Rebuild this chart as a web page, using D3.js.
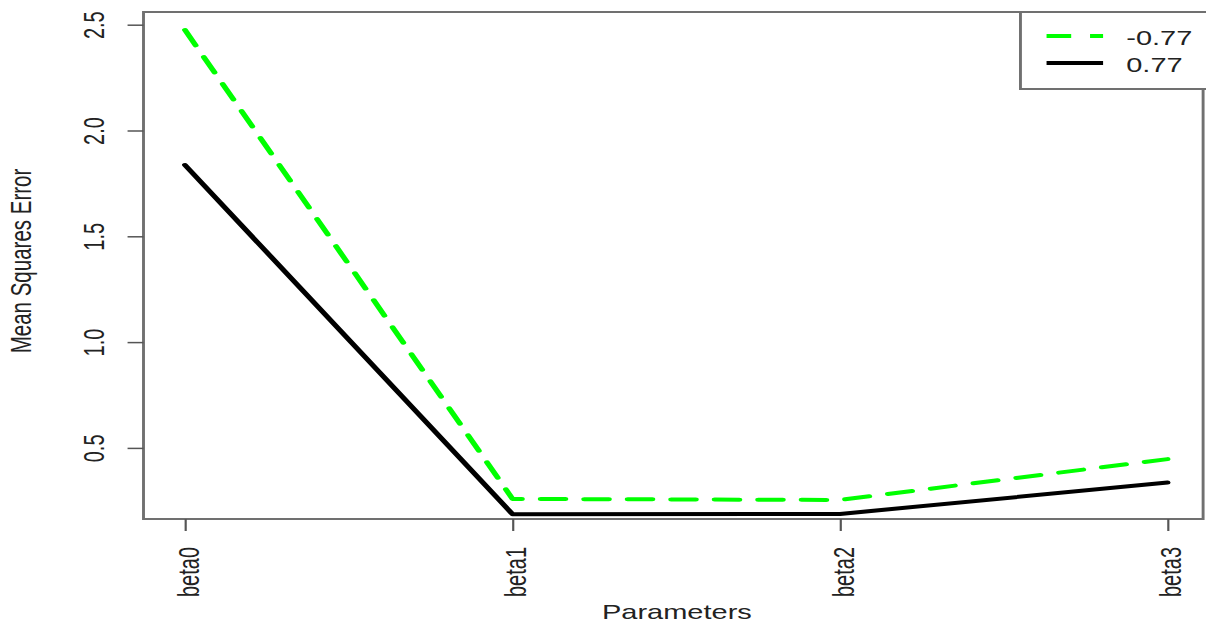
<!DOCTYPE html>
<html>
<head>
<meta charset="utf-8">
<script src="https://cdn.jsdelivr.net/npm/d3@7"></script>
<style>
  html, body { margin: 0; padding: 0; background: #fff; }
  svg { display: block; }
  text { font-family: "Liberation Sans", Arial, sans-serif; fill: #222; }
</style>
</head>
<body>
<svg id="chart"></svg>
<script>
// ---- data ----
const categories = ["beta0", "beta1", "beta2", "beta3"];
const seriesNames = ["-0.77", "0.77"];
const negValues = [2.475, 0.259, 0.254, 0.447];
const posValues = [1.837, 0.187, 0.188, 0.336];
const yTicks = [0.5, 1.0, 1.5, 2.0, 2.5];
const yTickLabels = ["0.5", "1.0", "1.5", "2.0", "2.5"];
const xTitle = "Parameters";
const yTitle = "Mean Squares Error";

// ---- layout (drawn in a narrower space and stretched horizontally like the reference) ----
const W = 1206, H = 623, IW = 832;
const box = { left: 99, right: 830, top: 12, bottom: 519 };

const svg = d3.select("#chart")
  .attr("width", W).attr("height", H)
  .attr("viewBox", `0 0 ${IW} ${H}`)
  .attr("preserveAspectRatio", "none");

const x = d3.scalePoint().domain(categories).range([127.6, 805.5]);
const y = d3.scaleLinear().domain([0.164, 2.56]).range([box.bottom, box.top]);

const series = [
  { name: seriesNames[0], values: negValues, color: "#00ff00", dash: "17,13" },
  { name: seriesNames[1], values: posValues, color: "#000000", dash: null }
];

// lines
const line = d3.line().x((d, i) => x(categories[i])).y(d => y(d));
series.forEach(s => {
  svg.append("path")
    .datum(s.values)
    .attr("d", line)
    .attr("fill", "none")
    .attr("stroke", s.color)
    .attr("stroke-width", 4)
    .attr("stroke-linecap", "round")
    .attr("stroke-linejoin", "round")
    .attr("stroke-dasharray", s.dash);
});

// plot box
svg.append("rect")
  .attr("x", box.left).attr("y", box.top)
  .attr("width", box.right - box.left).attr("height", box.bottom - box.top)
  .attr("fill", "none").attr("stroke", "#707070").attr("stroke-width", 2);

// y axis
const yAxis = d3.axisLeft(y).tickValues(yTicks).tickSize(11).tickFormat((d, i) => yTickLabels[i]);
const gy = svg.append("g").attr("transform", `translate(${box.left},0)`).call(yAxis);
gy.select(".domain").remove();
gy.selectAll(".tick line").attr("stroke", "#555").attr("stroke-width", 1.5);
gy.selectAll(".tick text")
  .attr("x", null).attr("dy", null)
  .attr("transform", "translate(-27.3,0) rotate(-90)")
  .attr("text-anchor", "middle")
  .style("font-size", "20px")
  .style("font-family", "'Liberation Sans', Arial, sans-serif");

// x axis
const xAxis = d3.axisBottom(x).tickSize(12);
const gx = svg.append("g").attr("transform", `translate(0,${box.bottom})`).call(xAxis);
gx.select(".domain").remove();
gx.selectAll(".tick line").attr("stroke", "#555").attr("stroke-width", 1.5);
gx.selectAll(".tick text")
  .attr("y", null).attr("dy", null)
  .attr("transform", "translate(9,28) rotate(-90)")
  .attr("text-anchor", "end")
  .style("font-size", "20px")
  .style("font-family", "'Liberation Sans', Arial, sans-serif");

// axis titles
svg.append("text")
  .attr("x", 467).attr("y", 619)
  .attr("text-anchor", "middle")
  .style("font-size", "20px")
  .text(xTitle);

svg.append("text")
  .attr("transform", `translate(21.5,261) rotate(-90)`)
  .attr("text-anchor", "middle")
  .style("font-size", "20.5px")
  .text(yTitle);

// legend
const lg = svg.append("g");
lg.append("rect")
  .attr("x", 704).attr("y", 12)
  .attr("width", 140).attr("height", 77)
  .attr("fill", "#fff").attr("stroke", "#707070").attr("stroke-width", 2);
const legendRows = [36, 63];
series.forEach((s, i) => {
  lg.append("line")
    .attr("x1", 722).attr("x2", 761)
    .attr("y1", legendRows[i]).attr("y2", legendRows[i])
    .attr("stroke", s.color).attr("stroke-width", 4)
    .attr("stroke-dasharray", s.dash);
  lg.append("text")
    .attr("x", 777).attr("y", legendRows[i] + 9)
    .style("font-size", "20px")
    .text(s.name);
});
</script>
</body>
</html>
